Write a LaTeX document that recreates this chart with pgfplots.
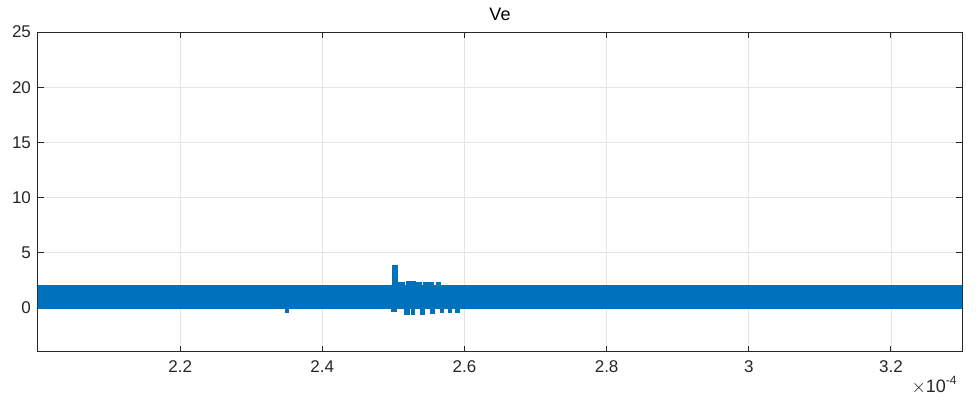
\documentclass[border=0pt]{standalone}
\usepackage{pgfplots}
\pgfplotsset{compat=1.18}
\usepackage{fontspec}
\setmainfont{Liberation Sans}
\definecolor{mblue}{rgb}{0,0.447,0.741}
\definecolor{axgray}{rgb}{0.15,0.15,0.15}
\begin{document}
\begin{tikzpicture}
\begin{axis}[
  name=ax,
  scale only axis,
  width=462pt, height=160pt,
  xmin=2.0, xmax=3.3, ymin=-4, ymax=25,
  xtick={2.2,2.4,2.6,2.8,3,3.2},
  ytick={0,5,10,15,20,25},
  xticklabels={2.2,2.4,2.6,2.8,3,3.2},
  yticklabels={0,5,10,15,20,25},
  grid=major,
  major grid style={color=black!10, line width=0.4pt},
  axis line style={color=axgray, line width=0.5pt},
  tick style={color=axgray, line width=0.5pt},
  tick align=inside,
  major tick length=3pt,
  ticklabel style={font=\fontsize{8.5}{10}\selectfont, text=axgray},
  xticklabel style={yshift=-1pt},
  title={Ve},
  title style={font=\fontsize{9}{10}\selectfont, text=black, yshift=-4pt},
  clip=true,
  /pgf/number format/assume math mode=true,
]
\addplot[fill=mblue, draw=mblue, line width=1.2pt, line join=miter] coordinates {
(2.0,2.0) (2.5,2.0) (2.5,3.75) (2.5045,3.75) (2.5045,2.27) (2.515,2.27) (2.515,2.0)
(2.519,2.0) (2.519,2.3) (2.523,2.3) (2.523,2.0)
(2.525,2.0) (2.525,2.3) (2.530,2.3) (2.530,2.0)
(2.534,2.0) (2.534,2.25) (2.539,2.25) (2.539,2.0)
(2.543,2.0) (2.543,2.25) (2.547,2.25) (2.547,2.0)
(2.550,2.0) (2.550,2.2) (2.555,2.2) (2.555,2.0)
(2.561,2.0) (2.561,2.2) (2.565,2.2) (2.565,2.0)
(3.3,2.0)
(3.3,0) (2.592,0) (2.592,-0.4) (2.588,-0.4) (2.588,0)
(2.581,0) (2.581,-0.4) (2.578,-0.4) (2.578,0)
(2.569,0) (2.569,-0.4) (2.567,-0.4) (2.567,0)
(2.557,0) (2.557,-0.45) (2.5526,-0.45) (2.5526,0)
(2.543,0) (2.543,-0.5) (2.539,-0.5) (2.539,0)
(2.529,0) (2.529,-0.5) (2.527,-0.5) (2.527,0)
(2.522,0) (2.522,-0.5) (2.517,-0.5) (2.517,0)
(2.503,0) (2.503,-0.25) (2.4986,-0.25) (2.4986,0)
(2.351,0) (2.351,-0.35) (2.349,-0.35) (2.349,0)
(2.0,0)
} -- cycle;
\end{axis}
\node[anchor=north east, font=\fontsize{9}{10}\selectfont, text=axgray, inner sep=0pt]
  at ([xshift=-2pt,yshift=-12pt]ax.south east) {$\times$10\textsuperscript{-4}};
\path ([xshift=-19pt,yshift=-24.5pt]ax.south west) rectangle ([xshift=7pt,yshift=16pt]ax.north east);
\end{tikzpicture}
\end{document}
